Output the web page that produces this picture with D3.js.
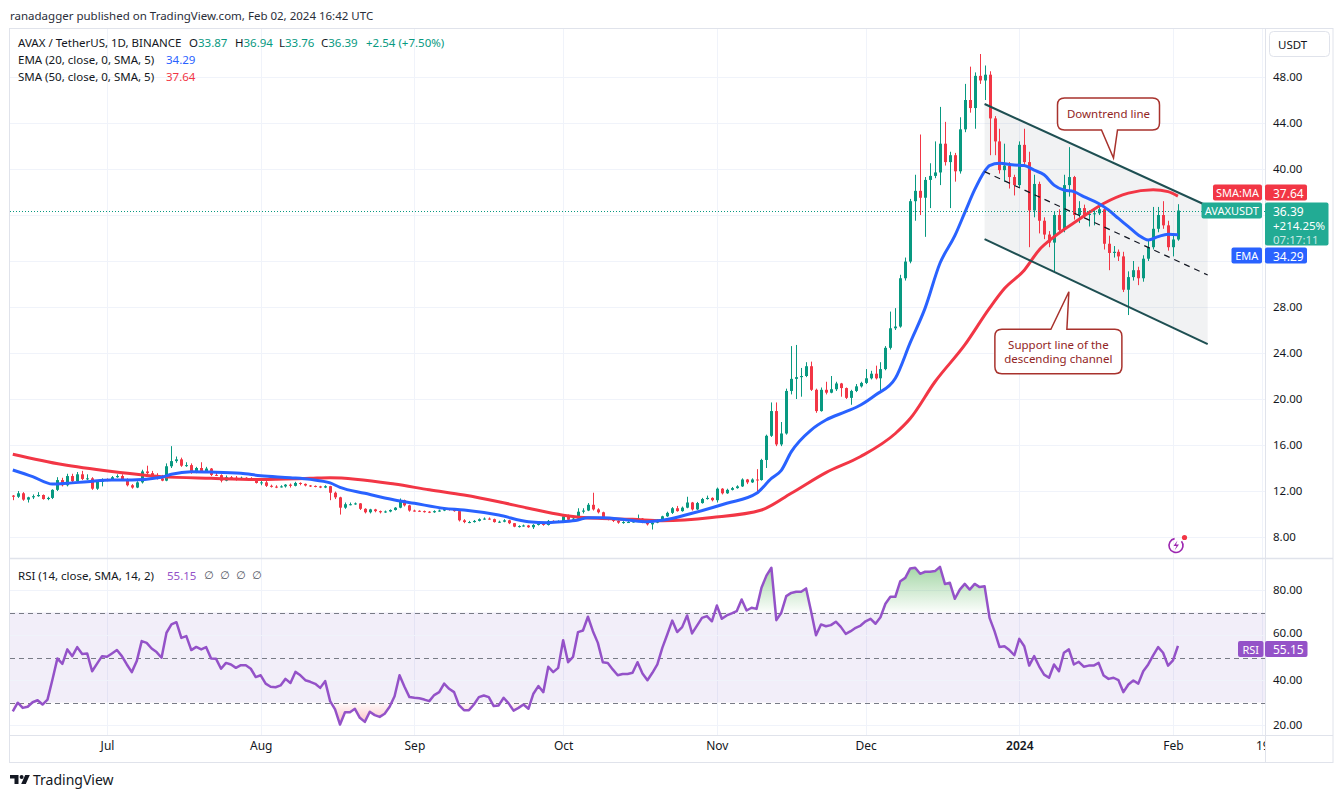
<!DOCTYPE html>
<html><head><meta charset="utf-8">
<script src="https://cdn.jsdelivr.net/npm/d3@7"></script>
<style>
body{margin:0;background:#fff;}
svg text{font-family:"Noto Sans","DejaVu Sans",sans-serif;}
</style></head><body>
<svg id="c" width="1343" height="798"></svg>
<script>
// ---------------- DATA ----------------
const startDate = "2023-06-12";           // first daily candle
const firstOpen = 11.6;                   // open of the first candle (later opens = previous close, 24/7 market)
const closes = [
11.5,11.8,11.25,11.45,11.55,11.65,11.3,11.4,12.1,12.95,
12.5,13.3,12.85,13.45,13.05,13.1,12.2,12.8,13.0,12.95,
13.2,13.3,12.95,12.5,12.3,12.75,13.7,13.55,13.25,13.1,
12.9,14.15,14.6,14.75,14.2,14.25,13.6,14.0,13.7,13.95,
13.4,13.38,12.9,13.2,13.15,13.0,13.15,13.12,12.95,12.7,
12.75,12.45,12.38,12.36,12.4,12.55,12.45,12.7,12.62,12.48,
12.44,12.4,12.3,12.42,11.85,11.45,10.55,10.85,10.85,10.92,
10.45,10.15,10.4,10.25,10.15,10.22,10.35,10.55,11.2,10.75,
10.3,10.28,10.25,10.2,10.15,10.25,10.3,10.45,10.35,10.25,
9.45,9.3,9.3,9.4,9.55,9.6,9.55,9.3,9.33,9.45,
9.2,8.9,8.95,9.0,8.85,9.05,9.15,9.05,9.4,9.3,
9.38,9.8,9.5,9.6,10.2,10.3,10.8,10.4,10.15,9.6,
9.55,9.4,9.25,9.3,9.3,9.35,9.6,9.3,9.1,9.25,
9.45,9.8,10.1,10.5,10.25,10.55,11.0,10.4,10.95,11.3,
11.4,11.2,12.2,11.8,12.1,12.25,12.4,13.0,12.75,13.0,
12.95,14.7,16.8,18.95,16.05,17.0,20.7,21.75,21.9,22.0,
22.85,20.8,18.95,20.8,20.55,20.85,21.35,20.95,20.1,20.7,
21.1,21.4,21.8,22.2,21.8,22.6,24.45,26.15,26.3,30.5,
31.95,37.2,38.1,37.5,39.05,39.4,39.7,42.2,40.6,41.2,
39.8,43.45,46.0,45.3,48.1,47.7,48.2,44.4,42.4,39.9,
40.3,39.3,38.6,42.1,40.6,36.4,38.7,35.5,34.3,33.6,
36.0,34.7,38.6,39.3,36.0,36.6,36.0,36.1,36.15,36.5,
33.5,32.7,32.8,32.4,29.5,30.6,31.2,30.5,32.2,33.2,
34.8,36.0,35.1,33.2,33.87,36.39];
const highs = [
11.65,12.0,11.9,11.5,11.7,11.9,11.7,11.5,12.15,13.2,
13.15,13.5,13.5,13.65,13.75,13.45,13.2,12.95,13.1,13.1,
13.3,13.45,13.45,13.1,12.6,12.85,13.85,14.2,13.75,13.55,
13.4,14.4,15.9,15.0,14.9,14.5,14.4,14.1,14.5,14.1,
14.0,13.7,13.45,13.35,13.3,13.3,13.25,13.2,13.2,13.1,
12.95,12.9,12.55,12.5,12.5,12.6,12.65,12.8,12.75,12.65,
12.52,12.48,12.45,12.5,12.45,11.95,11.5,11.0,11.0,11.0,
10.95,10.5,10.45,10.45,10.3,10.3,10.4,10.6,11.35,11.25,
10.8,10.38,10.32,10.3,10.25,10.32,10.38,10.55,10.5,10.4,
10.3,9.55,9.4,9.48,9.62,9.7,9.7,9.6,9.42,9.55,
9.5,9.22,9.02,9.08,9.05,9.12,9.22,9.2,9.48,9.45,
9.45,9.9,9.95,9.7,10.5,10.5,10.95,11.85,10.5,10.2,
9.7,9.62,9.45,9.38,9.38,9.42,9.95,9.65,9.35,9.3,
9.55,9.85,10.2,10.6,10.7,10.65,11.5,11.05,11.05,11.4,
11.6,11.45,12.3,12.25,12.2,12.35,12.5,13.1,13.05,13.1,
13.9,14.8,16.9,19.7,19.7,18.0,20.9,24.6,24.7,22.7,
23.2,23.25,20.9,21.0,21.5,22.0,21.5,21.4,21.0,20.8,
21.3,21.5,22.6,22.45,22.9,23.2,24.6,27.6,27.9,30.8,
32.3,37.4,39.5,43.0,39.3,40.5,42.4,45.4,44.1,41.5,
41.4,44.5,47.4,48.9,48.4,50.0,49.0,48.5,44.6,43.5,
42.2,40.6,39.5,42.4,43.5,41.5,39.5,38.9,35.8,34.6,
36.3,36.5,39.5,41.9,39.4,37.2,36.9,36.4,36.5,36.9,
36.7,34.2,33.3,33.0,32.8,31.1,32.0,31.5,32.5,33.8,
36.7,36.7,37.2,35.5,34.2,36.94];
const lows = [
11.2,11.4,11.15,11.0,11.3,11.5,11.25,11.2,11.3,12.0,
12.4,12.4,12.75,12.8,12.95,12.95,12.1,12.1,12.4,12.85,
12.9,13.15,12.9,12.4,12.2,12.25,12.65,13.4,13.1,13.0,
12.85,12.85,14.0,14.45,14.1,14.1,13.5,13.55,13.6,13.65,
13.3,13.3,12.75,12.85,13.0,12.9,12.95,13.0,12.9,12.65,
12.5,12.35,12.3,12.25,12.3,12.3,12.3,12.4,12.5,12.4,
12.35,12.32,12.25,12.25,11.2,11.3,9.95,10.45,10.75,10.8,
10.35,10.05,10.05,10.15,10.05,10.1,10.15,10.3,10.5,10.65,
10.2,10.2,10.18,10.12,10.08,10.1,10.2,10.25,10.3,10.2,
9.35,9.2,9.2,9.25,9.35,9.5,9.5,9.25,9.22,9.28,
9.12,8.85,8.82,8.9,8.8,8.7,9.0,8.98,9.0,9.22,
9.25,9.3,9.45,9.4,9.55,10.05,10.25,10.3,10.05,9.5,
9.45,9.3,9.15,9.15,9.22,9.25,9.3,9.2,9.0,8.65,
9.2,9.4,9.75,10.0,10.2,10.2,10.5,10.3,10.35,10.9,
11.25,11.1,11.0,11.7,11.75,12.05,12.2,12.35,12.6,12.7,
11.8,12.9,14.0,16.7,15.9,15.9,16.9,20.4,20.0,20.2,
21.9,20.7,18.8,18.9,20.4,20.5,20.7,20.2,20.0,19.5,
20.6,21.0,21.3,21.7,21.7,20.6,22.5,24.3,26.0,26.2,
30.3,31.8,35.5,36.0,34.1,36.6,39.2,38.6,40.3,36.6,
38.9,39.6,43.2,44.9,43.5,47.4,46.0,41.2,41.2,39.6,
38.9,38.3,37.7,38.4,40.3,33.2,35.8,34.4,33.9,33.2,
31.1,34.5,34.5,37.6,35.6,35.3,35.7,35.0,35.1,36.0,
33.0,31.2,32.3,32.0,29.3,27.3,30.3,29.9,30.2,32.0,
33.0,34.5,34.8,32.9,32.4,33.76];
const rsiValues = [
26.1,29.9,27.6,28.1,30.1,31.0,29.1,31.3,40.2,49.6,
47.2,53.6,50.6,54.6,51.6,51.8,43.9,47.3,50.6,50.3,
51.8,53.3,50.6,46.9,43.5,48.4,57.3,56.5,54.0,52.4,
49.9,61.0,64.7,65.7,58.7,59.5,53.3,54.7,53.6,54.6,
49.6,49.4,45.0,47.6,46.9,45.4,46.6,46.6,45.0,41.3,
42.1,38.4,37.0,36.8,37.6,40.5,38.7,43.6,42.1,39.9,
39.2,38.3,36.5,39.5,30.6,26.9,20.2,25.7,25.7,27.2,
23.2,21.4,25.9,24.4,23.6,25.0,28.1,32.8,42.1,37.0,
32.4,32.1,31.9,31.3,30.6,33.3,34.6,38.4,36.1,34.6,
28.8,26.6,26.6,29.1,32.4,33.1,32.4,28.4,28.7,32.1,
29.6,26.4,27.6,29.1,27.2,33.9,37.3,34.6,45.9,43.5,
45.4,57.7,47.9,50.3,61.3,62.0,68.1,61.7,56.5,47.9,
47.6,44.7,42.1,42.7,42.7,43.2,47.9,42.9,39.9,43.2,
46.9,54.3,60.2,66.4,61.3,63.5,68.7,60.7,64.2,67.6,
68.4,66.1,73.1,67.2,68.7,69.6,70.6,75.8,70.9,72.1,
71.6,81.0,86.4,89.9,66.6,69.9,77.3,78.7,79.2,79.2,
80.7,70.6,59.9,64.7,63.9,64.4,65.9,63.6,60.5,61.7,
63.2,64.2,66.1,67.2,65.0,67.9,73.9,77.0,77.0,83.9,
85.4,89.6,89.9,87.2,88.1,88.1,88.4,90.3,82.7,83.2,
76.1,80.2,82.7,80.2,82.7,81.3,81.7,67.6,61.7,54.7,
55.0,53.3,51.0,58.3,55.0,46.4,50.6,46.1,42.4,41.0,
46.9,43.9,52.1,53.6,46.9,48.1,45.9,46.4,46.4,47.6,
42.0,40.5,41.0,39.9,34.6,38.0,39.8,38.4,43.9,46.9,
50.9,54.6,52.1,46.4,48.7,55.15];
// EMA(20) and SMA(50) at these day offsets from startDate
const emaDays = [0,4,8,11,15,20,24,30,32,36,40,46,50,56,60,64,66,71,77,81,87,91,98,104,108,111,114,116,119,124,128,131,137,144,150,153,155,157,161,164,168,171,174,178,181,184,187,190,192,194,196,197,199,202,204,206,208,210,212,214,216,219,221,223,225,227,229,231,233,235];
const emaValues = [13.83,13.25,12.6,12.67,12.81,12.96,12.96,13.19,13.45,13.68,13.65,13.54,13.33,13.16,13.01,12.7,12.32,11.8,11.22,10.93,10.49,10.35,9.91,9.33,9.25,9.33,9.48,9.68,9.68,9.48,9.33,9.45,10.06,10.93,11.8,13.1,13.8,15.4,17.3,18.17,18.9,19.48,20.35,21.8,24.9,27.9,31.8,34.2,36.2,38.2,39.8,40.3,40.5,40.35,40.3,39.9,39.5,38.6,38.17,38.03,37.6,37.0,36.43,35.7,34.99,34.26,33.83,34.12,34.32,34.29];
const smaDays = [0,10,20,30,40,50,60,64,77,84,91,98,104,111,118,125,131,141,151,157,164,171,178,181,186,192,197,200,204,207,210,215,220,225,230,233,235];
const smaValues = [15.2,14.3,13.7,13.25,13.1,13.0,13.1,13.15,12.6,12.1,11.65,11.07,10.5,9.9,9.62,9.54,9.42,9.7,10.35,11.8,13.6,15.0,17.0,18.3,21.5,24.7,27.9,29.6,31.2,32.96,34.1,35.6,37.0,37.9,38.2,38.03,37.64];
// channel drawing anchors (date, price)
const channelDates = ["2023-12-25","2024-02-08"];
const channelUpper = [45.65,36.78];
const channelLower = [33.9,24.78];
const calloutTips = [["2024-01-20",40.96],["2024-01-11",29.33]];
const calloutTexts = [["Downtrend line"],["Support line of the","descending channel"]];
// axes
const priceTicks = [8,12,16,20,24,28,32,36,40,44,48];
const rsiTicks = [20,40,60,80];
const rsiLevels = [30,50,70];
const timeTicks = ["2023-07-01","2023-08-01","2023-09-01","2023-10-01","2023-11-01","2023-12-01","2024-01-01","2024-02-01","2024-02-19"];
const timeLabels = ["Jul","Aug","Sep","Oct","Nov","Dec","2024","Feb","19"];
const last = {ema:34.29, sma:37.64, price:36.39, change:"+214.25%", timer:"07:17:11", rsi:55.15};

// ---------------- LAYOUT ----------------
const L=10, R=1265, T=28, MB=558, RB=735, BB=762, RR=1333;
const UP="#089981", DN="#f23645", BLUE="#2962ff", PURPLE="#9452c8", TXT="#131722";
const svg = d3.select("#c");
const parse = d3.utcParse("%Y-%m-%d");
const start = parse(startDate);
const dayDate = i => d3.utcDay.offset(start, i);
const candles = closes.map((c,i)=>({date:dayDate(i), o: i===0?firstOpen:closes[i-1], h:highs[i], l:lows[i], c}));

const x = d3.scaleUtc().domain([parse("2023-07-01"), parse("2024-02-01")]).range([107,1173]);
const y = d3.scaleLinear().domain([8,48]).range([537,77]);
const ry = d3.scaleLinear().domain([20,80]).range([725,590]);

const defs = svg.append("defs");
function clip(id,x0,y0,x1,y1){defs.append("clipPath").attr("id",id).append("rect").attr("x",x0).attr("y",y0).attr("width",x1-x0).attr("height",y1-y0);}
clip("cMain",L,T,R,MB); clip("cRsi",L,MB,R,RB); clip("cOb",L,MB,R,ry(70)); clip("cOs",L,ry(30),R,RB); clip("cTime",L,RB,R,BB);
const gOb = defs.append("linearGradient").attr("id","gOb").attr("gradientUnits","userSpaceOnUse").attr("x1",0).attr("x2",0).attr("y1",ry(92)).attr("y2",ry(70));
gOb.append("stop").attr("offset",0).attr("stop-color","rgba(76,175,80,0.55)");
gOb.append("stop").attr("offset",1).attr("stop-color","rgba(76,175,80,0.02)");
const gOs = defs.append("linearGradient").attr("id","gOs").attr("gradientUnits","userSpaceOnUse").attr("x1",0).attr("x2",0).attr("y1",ry(30)).attr("y2",ry(18));
gOs.append("stop").attr("offset",0).attr("stop-color","rgba(242,54,69,0.02)");
gOs.append("stop").attr("offset",1).attr("stop-color","rgba(242,54,69,0.4)");

// grid
const tDates = timeTicks.map(parse);
svg.append("g").selectAll("line").data(tDates).join("line")
  .attr("x1",d=>Math.round(x(d))+0.5).attr("x2",d=>Math.round(x(d))+0.5).attr("y1",T).attr("y2",RB).attr("stroke","#f0f3fa");
svg.append("g").selectAll("line").data(priceTicks).join("line")
  .attr("x1",L).attr("x2",R).attr("y1",d=>Math.round(y(d))+0.5).attr("y2",d=>Math.round(y(d))+0.5).attr("stroke","#f0f3fa");

// RSI band and grid
svg.append("rect").attr("x",L).attr("width",R-L).attr("y",ry(70)).attr("height",ry(30)-ry(70)).attr("fill","rgba(126,87,194,0.1)");
svg.append("g").selectAll("line").data(rsiTicks).join("line")
  .attr("x1",L).attr("x2",R).attr("y1",d=>Math.round(ry(d))+0.5).attr("y2",d=>Math.round(ry(d))+0.5).attr("stroke","#f0f3fa");
svg.append("g").selectAll("line").data(rsiLevels).join("line")
  .attr("x1",L).attr("x2",R).attr("y1",d=>Math.round(ry(d))+0.5).attr("y2",d=>Math.round(ry(d))+0.5)
  .attr("stroke","#787b86").attr("stroke-dasharray","5,4").attr("stroke-width",1);

// frame
svg.append("rect").attr("x",L-0.5).attr("y",T+0.5).attr("width",RR-L+0.5).attr("height",BB-T).attr("fill","none").attr("stroke","#e0e3eb");
svg.append("line").attr("x1",L).attr("x2",RR).attr("y1",MB+0.5).attr("y2",MB+0.5).attr("stroke","#e0e3eb").attr("stroke-width",1.5);
svg.append("line").attr("x1",L).attr("x2",RR).attr("y1",RB+0.5).attr("y2",RB+0.5).attr("stroke","#e0e3eb");
svg.append("line").attr("x1",R+0.5).attr("x2",R+0.5).attr("y1",T).attr("y2",BB).attr("stroke","#e0e3eb");

// channel fill (under candles)
const cd = channelDates.map(parse);
const gMain = svg.append("g").attr("clip-path","url(#cMain)");
gMain.append("path").attr("d", d3.line()([[x(cd[0]),y(channelUpper[0])],[x(cd[1]),y(channelUpper[1])],[x(cd[1]),y(channelLower[1])],[x(cd[0]),y(channelLower[0])]])+"Z")
  .attr("fill","rgba(120,123,134,0.1)");

// candles
const gc = gMain.append("g");
gc.selectAll("line").data(candles).join("line")
  .attr("x1",d=>Math.round(x(d.date))+0.5).attr("x2",d=>Math.round(x(d.date))+0.5)
  .attr("y1",d=>y(d.h)).attr("y2",d=>y(d.l)).attr("stroke",d=>d.c>=d.o?UP:DN).attr("stroke-width",1);
gc.selectAll("rect").data(candles).join("rect")
  .attr("x",d=>Math.round(x(d.date))-1).attr("width",3)
  .attr("y",d=>y(Math.max(d.o,d.c))).attr("height",d=>Math.max(1,Math.abs(y(d.o)-y(d.c))))
  .attr("fill",d=>d.c>=d.o?UP:DN);

// moving averages
const maLine = d3.line().x(d=>x(dayDate(d[0]))).y(d=>y(d[1])).curve(d3.curveMonotoneX);
gMain.append("path").attr("d",maLine(smaDays.map((d,i)=>[d,smaValues[i]]))).attr("fill","none").attr("stroke",DN).attr("stroke-width",3).attr("stroke-linejoin","round");
gMain.append("path").attr("d",maLine(emaDays.map((d,i)=>[d,emaValues[i]]))).attr("fill","none").attr("stroke",BLUE).attr("stroke-width",3).attr("stroke-linejoin","round");

// last price dotted line
gMain.append("line").attr("x1",L).attr("x2",R).attr("y1",Math.round(y(last.price))+0.5).attr("y2",Math.round(y(last.price))+0.5)
  .attr("stroke",UP).attr("stroke-width",1).attr("stroke-dasharray","1,2");

// channel lines
const CH="#1e4f52";
gMain.append("line").attr("x1",x(cd[0])).attr("x2",x(cd[1])).attr("y1",y(channelUpper[0])).attr("y2",y(channelUpper[1])).attr("stroke",CH).attr("stroke-width",2);
gMain.append("line").attr("x1",x(cd[0])).attr("x2",x(cd[1])).attr("y1",y(channelLower[0])).attr("y2",y(channelLower[1])).attr("stroke",CH).attr("stroke-width",2);
gMain.append("line").attr("x1",x(cd[0])).attr("x2",x(cd[1]))
  .attr("y1",y((channelUpper[0]+channelLower[0])/2)).attr("y2",y((channelUpper[1]+channelLower[1])/2))
  .attr("stroke","#131722").attr("stroke-width",1.2).attr("stroke-dasharray","6,5");

// callouts
const CB="#a8322d", CT="#922525";
{
  const tx = x(parse(calloutTips[0][0])), ty = y(calloutTips[0][1]);
  const bx0=tx-56, bx1=tx+46, by0=ty-60, by1=ty-28, r=7;
  const p = `M${bx0+r},${by0} H${bx1-r} Q${bx1},${by0} ${bx1},${by0+r} V${by1-r} Q${bx1},${by1} ${bx1-r},${by1} H${tx+4} L${tx},${ty} L${tx-12},${by1} H${bx0+r} Q${bx0},${by1} ${bx0},${by1-r} V${by0+r} Q${bx0},${by0} ${bx0+r},${by0} Z`;
  gMain.append("path").attr("d",p).attr("fill","#fff").attr("stroke",CB).attr("stroke-width",1.5);
  gMain.append("text").attr("x",(bx0+bx1)/2).attr("y",(by0+by1)/2).attr("text-anchor","middle").attr("dominant-baseline","central")
    .attr("font-size",11.5).attr("fill",CT).text(calloutTexts[0][0]);
}
{
  const tx = x(parse(calloutTips[1][0])), ty = y(calloutTips[1][1]);
  const bx0=tx-74, bx1=tx+53, by0=ty+37.5, by1=ty+82, r=7;
  const p = `M${bx0+r},${by0} H${tx-18} L${tx},${ty} L${tx-2},${by0} H${bx1-r} Q${bx1},${by0} ${bx1},${by0+r} V${by1-r} Q${bx1},${by1} ${bx1-r},${by1} H${bx0+r} Q${bx0},${by1} ${bx0},${by1-r} V${by0+r} Q${bx0},${by0} ${bx0+r},${by0} Z`;
  gMain.append("path").attr("d",p).attr("fill","#fff").attr("stroke",CB).attr("stroke-width",1.5);
  calloutTexts[1].forEach((t,k)=>gMain.append("text").attr("x",(bx0+bx1)/2).attr("y",by0+15.5+k*13.5).attr("text-anchor","middle").attr("dominant-baseline","central")
    .attr("font-size",11.5).attr("fill",CT).text(t));
}

// events icon
svg.append("path").attr("d",d3.arc()({innerRadius:7,outerRadius:7,startAngle:0.9,endAngle:2*Math.PI-0.2})).attr("transform","translate(1176,545.5)")
  .attr("fill","none").attr("stroke","#9c27b0").attr("stroke-width",1.6);
svg.append("path").attr("d","M1177.5,540.5 L1173.5,546 L1176.5,546 L1174.5,550.5 L1179,544.5 L1176,544.5 Z").attr("fill","#9c27b0");
svg.append("circle").attr("cx",1184.5).attr("cy",537.5).attr("r",2.6).attr("fill",DN);

// RSI fills + line
const gR = svg.append("g").attr("clip-path","url(#cRsi)");
const rsiPts = rsiValues.map((v,i)=>[x(dayDate(i)), ry(v)]);
gR.append("path").attr("clip-path","url(#cOb)").attr("d",d3.area().x(d=>d[0]).y0(ry(70)).y1(d=>d[1])(rsiPts)).attr("fill","url(#gOb)");
gR.append("path").attr("clip-path","url(#cOs)").attr("d",d3.area().x(d=>d[0]).y0(ry(30)).y1(d=>d[1])(rsiPts)).attr("fill","url(#gOs)");
gR.append("path").attr("d",d3.line()(rsiPts)).attr("fill","none").attr("stroke",PURPLE).attr("stroke-width",2.5).attr("stroke-linejoin","round");

// axis tags (price labels) — tick labels they cover are not drawn
const tags = [
  {y0:184.5,h:16,fill:DN,name:"SMA:MA",nx:1213,nw:49,vw:42,vals:[d3.format(".2f")(last.sma)]},
  {y0:202.5,h:43,fill:"#22ab94",name:"AVAXUSDT",nx:1201.5,nw:60.5,vw:63.5,vals:[d3.format(".2f")(last.price),last.change,last.timer]},
  {y0:247.5,h:16,fill:BLUE,name:"EMA",nx:1231.5,nw:30.5,vw:42,vals:[d3.format(".2f")(last.ema)]},
  {y0:641,h:16,fill:PURPLE,name:"RSI",nx:1238,nw:25.5,vw:42.5,vals:[d3.format(".2f")(last.rsi)]}
];
const covered = py => tags.some(t => py+4 > t.y0 && py-4 < t.y0+t.h);

// right price axis
const ax = svg.append("g").attr("transform","translate(1273,0)")
  .call(d3.axisRight(y).tickValues(priceTicks.filter(v=>!covered(y(v)))).tickSize(0).tickPadding(0).tickFormat(d3.format(".2f")));
ax.select(".domain").remove();
ax.selectAll("text").attr("font-size",11.5).attr("fill",TXT).attr("font-family","Noto Sans");
const axr = svg.append("g").attr("transform","translate(1273,0)")
  .call(d3.axisRight(ry).tickValues(rsiTicks.filter(v=>!covered(ry(v)))).tickSize(0).tickPadding(0).tickFormat(d3.format(".2f")));
axr.select(".domain").remove();
axr.selectAll("text").attr("font-size",11.5).attr("fill",TXT).attr("font-family","Noto Sans")
  .attr("dy",d=>d===60?"0.1em":"0.32em");

// time axis
const axt = svg.append("g").attr("clip-path","url(#cTime)").append("g").attr("transform",`translate(0,${RB+6})`)
  .call(d3.axisBottom(x).tickValues(tDates).tickSize(0).tickPadding(0).tickFormat((d,i)=>timeLabels[i]));
axt.select(".domain").remove();
axt.selectAll("text").attr("font-size",12).attr("fill",TXT).attr("font-family","Noto Sans")
  .attr("font-weight",(d,i)=>timeLabels[i]==="2024"?"600":"400");

// USDT box
svg.append("rect").attr("x",1269.5).attr("y",31.5).attr("width",60).attr("height",25).attr("rx",4).attr("fill","#fff").attr("stroke","#e0e3eb");
svg.append("text").attr("x",1278).attr("y",44.5).attr("dominant-baseline","central").attr("font-size",11.5).attr("fill",TXT).text("USDT");

tags.forEach(t=>{
  svg.append("rect").attr("x",t.nx).attr("y",t.y0).attr("width",t.nw).attr("height",t.h>20?16:t.h).attr("rx",2).attr("fill",t.fill);
  svg.append("text").attr("x",t.nx+t.nw/2).attr("y",t.y0+8).attr("text-anchor","middle").attr("dominant-baseline","central")
    .attr("font-size",11).attr("fill","#fff").text(t.name);
  svg.append("rect").attr("x",1265).attr("y",t.y0).attr("width",t.vw).attr("height",t.h).attr("rx",2).attr("fill",t.fill);
  t.vals.forEach((v,k)=>svg.append("text").attr("x",1273).attr("y",t.y0+8.5+k*14).attr("dominant-baseline","central")
    .attr("font-size",k===0?12:11.5).attr("fill",k===2?"rgba(255,255,255,0.75)":"#fff").text(v));
});

// headers
svg.append("text").attr("x",10).attr("y",15).attr("dominant-baseline","central").attr("font-size",11.5).attr("fill","#2a2e39")
  .text("ranadagger published on TradingView.com, Feb 02, 2024 16:42 UTC");
const h1 = svg.append("text").attr("y",42).attr("dominant-baseline","central").attr("font-size",11.5).attr("fill",TXT);
h1.append("tspan").attr("x",18).text("AVAX / TetherUS, 1D, BINANCE");
const ohlc = [["O",33.87,189],["H",36.94,235],["L",33.76,279],["C",36.39,321]];
ohlc.forEach(([k,v,px])=>{h1.append("tspan").attr("x",px).text(k); h1.append("tspan").attr("fill",UP).text(d3.format(".2f")(v));});
h1.append("tspan").attr("x",366).attr("fill",UP).text("+2.54 (+7.50%)");
const h2 = svg.append("text").attr("y",59).attr("dominant-baseline","central").attr("font-size",11.5).attr("fill",TXT);
h2.append("tspan").attr("x",18).text("EMA (20, close, 0, SMA, 5)");
h2.append("tspan").attr("x",166).attr("fill",BLUE).text(d3.format(".2f")(last.ema));
const h3 = svg.append("text").attr("y",75.5).attr("dominant-baseline","central").attr("font-size",11.5).attr("fill",TXT);
h3.append("tspan").attr("x",18).text("SMA (50, close, 0, SMA, 5)");
h3.append("tspan").attr("x",166).attr("fill",DN).text(d3.format(".2f")(last.sma));
const h4 = svg.append("text").attr("y",574.5).attr("dominant-baseline","central").attr("font-size",11.5).attr("fill",TXT);
h4.append("tspan").attr("x",18).text("RSI (14, close, SMA, 14, 2)");
h4.append("tspan").attr("x",167).attr("fill",PURPLE).text(d3.format(".2f")(last.rsi));
[204,220,236,252].forEach(px=>h4.append("tspan").attr("x",px).attr("fill","#4a4e59").attr("font-family","DejaVu Sans").attr("font-size",11).text("\u2205"));

// TradingView logo
const lg = svg.append("g").attr("fill",TXT);
lg.append("path").attr("d","M10,775 H18.5 V784 H14.5 V778.6 H10 Z");
lg.append("circle").attr("cx",21.6).attr("cy",777).attr("r",2);
lg.append("path").attr("d","M25.2,775 H29.8 L25.8,784 H21.2 Z");
svg.append("text").attr("x",33).attr("y",779.5).attr("dominant-baseline","central").attr("font-size",14).attr("fill",TXT).text("TradingView");
</script>
</body></html>
